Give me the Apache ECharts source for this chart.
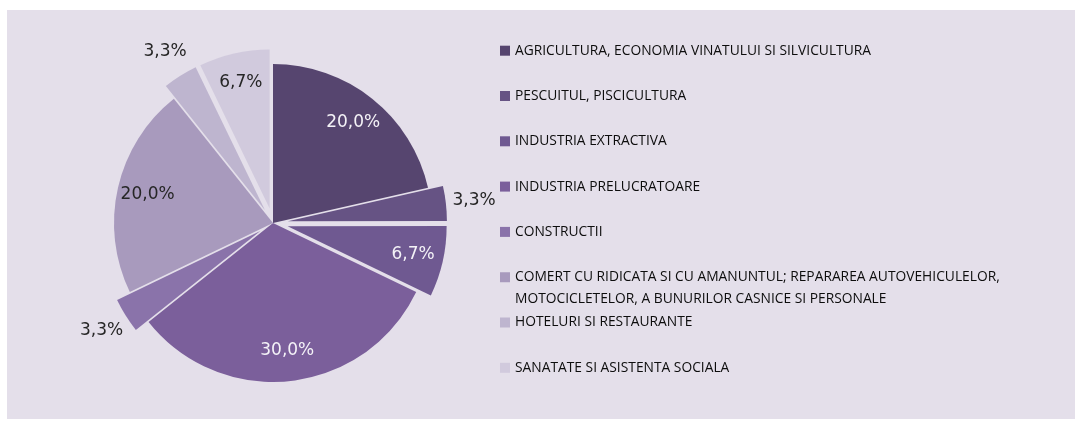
<!DOCTYPE html>
<html>
<head>
<meta charset="utf-8">
<script src="https://cdn.jsdelivr.net/npm/echarts@6/dist/echarts.min.js"></script>
<style>
html, body { margin: 0; padding: 0; background: #fff; }
#panel { position: absolute; left: 7px; top: 10px; width: 1068px; height: 409px; background: #e4dfea; }
#main { position: absolute; left: 0; top: 0; width: 1078px; height: 421px; }
</style>
</head>
<body>
<div id="panel"></div>
<div id="main"></div>
<script>
// ramuri de activitate
var categories = [
  'AGRICULTURA, ECONOMIA VINATULUI SI SILVICULTURA',
  'PESCUITUL, PISCICULTURA',
  'INDUSTRIA EXTRACTIVA',
  'INDUSTRIA PRELUCRATOARE',
  'CONSTRUCTII',
  'COMERT CU RIDICATA SI CU AMANUNTUL; REPARAREA AUTOVEHICULELOR,\nMOTOCICLETELOR, A BUNURILOR CASNICE SI PERSONALE',
  'HOTELURI SI RESTAURANTE',
  'SANATATE SI ASISTENTA SOCIALA'
];
var shares = [20.0, 3.3, 6.7, 30.0, 3.3, 20.0, 3.3, 6.7];

var palette = ['#56456f', '#665384', '#6f5991', '#7b5f9b', '#8a73aa', '#a89abd', '#beb5cf', '#d1cadd'];
var lightText = [true, false, true, true, false, false, false, false];
var pulledOut = [1, 2, 4, 6, 7];

var R = 159;
var CENTER = [273, 223];

function fmt(v) {
  return v.toFixed(1).replace('.', ',') + '%';
}

function items(withColor, labelFilter) {
  return categories.map(function (name, i) {
    var small = shares[i] < 5;
    var it = {
      name: name,
      value: shares[i],
      selected: pulledOut.indexOf(i) >= 0
    };
    if (withColor) {
      it.itemStyle = { color: palette[i] };
    } else {
      it.label = {
        show: labelFilter(small),
        color: (lightText[i] && !small) ? '#f4f2f7' : '#262626'
      };
    }
    return it;
  });
}

var pieBase = {
  type: 'pie',
  center: CENTER,
  startAngle: 90,
  clockwise: true,
  selectedMode: 'multiple',
  selectedOffset: 15,
  silent: true,
  animation: false,
  avoidLabelOverlap: false,
  emphasis: { disabled: true },
  labelLine: { show: false }
};

var overlayLabel = {
  show: true,
  position: 'inside',
  formatter: function (p) { return fmt(p.value); },
  fontFamily: 'DejaVu Sans',
  fontSize: 17
};

var myChart = echarts.init(document.getElementById('main'));

var legends = categories.map(function (name, i) {
  var y = 50.7 + 45.3 * i;
  var multi = name.indexOf('\n') >= 0;
  return {
    data: [name],
    orient: 'vertical',
    left: 500,
    top: multi ? y - 32.5 : y - 8,
    padding: 0,
    itemWidth: 10,
    itemHeight: 10,
    icon: 'rect',
    selectedMode: false,
    // empty first line keeps the marker level with the first text line
    formatter: function (n) { return multi ? '\n' + n : n; },
    textStyle: {
      fontFamily: 'Open Sans',
      fontSize: 13.8,
      color: '#0d0d0d',
      lineHeight: multi ? 21.7 : 16
    }
  };
});

myChart.setOption({
  backgroundColor: 'transparent',
  legend: legends,
  series: [
    Object.assign({}, pieBase, {
      name: 'ponderi',
      radius: R,
      itemStyle: { borderWidth: 0 },
      label: { show: false },
      data: items(true)
    }),
    Object.assign({}, pieBase, {
      name: 'etichete interioare',
      radius: R * 0.79 * 2,
      itemStyle: { color: 'transparent', borderWidth: 0 },
      select: { itemStyle: { color: 'transparent', borderWidth: 0 } },
      label: overlayLabel,
      data: items(false, function (small) { return !small; })
    }),
    Object.assign({}, pieBase, {
      name: 'etichete exterioare',
      radius: R * 1.16 * 2,
      itemStyle: { color: 'transparent', borderWidth: 0 },
      select: { itemStyle: { color: 'transparent', borderWidth: 0 } },
      label: overlayLabel,
      data: items(false, function (small) { return small; })
    })
  ]
});
</script>
</body>
</html>
